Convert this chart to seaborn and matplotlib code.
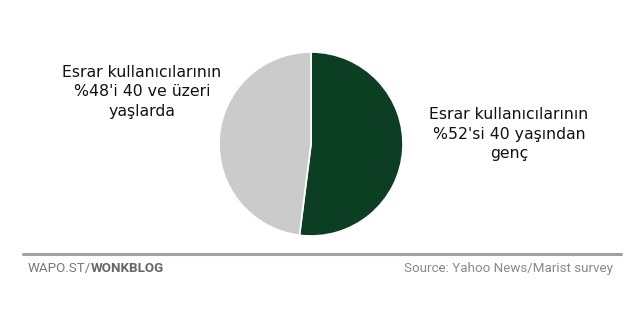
import matplotlib
matplotlib.use("Agg")
import matplotlib.pyplot as plt
import seaborn as sns
from matplotlib.lines import Line2D

sns.set_theme(style="white")
plt.rcParams['font.family'] = ['DejaVu Sans']

categories = ["40 yaşından genç", "40 ve üzeri"]
values = [52, 48]
colors = ["#0c3e23", "#cbcbcb"]
labels = [
    "Esrar kullanıcılarının\n%52'si 40 yaşından\ngenç",
    "Esrar kullanıcılarının\n%48'i 40 ve üzeri\nyaşlarda",
]
source_text = "Source: Yahoo News/Marist survey"

W, H = 640, 310
fig = plt.figure(figsize=(W / 100, H / 100), dpi=100)
fig.patch.set_facecolor("white")

# pie axes: center (311,144), radius 92 px
cx, cy, r = 311, 144, 92
ax = fig.add_axes([(cx - r) / W, (H - cy - r) / H, 2 * r / W, 2 * r / H])
ax.pie(values, colors=colors, startangle=90, counterclock=False, radius=1,
       wedgeprops=dict(edgecolor="white", linewidth=1.2))
ax.set_xlim(-1, 1)
ax.set_ylim(-1, 1)
ax.set_aspect("equal")
ax.axis("off")

fs = 11.3
fig.text(509 / W, 1 - 134 / H, labels[0], ha="center", va="center",
         fontsize=fs, color="#111111", linespacing=1.36, family=["DejaVu Sans"])
fig.text(142 / W, 1 - 92 / H, labels[1], ha="center", va="center",
         fontsize=fs, color="#111111", linespacing=1.36, family=["DejaVu Sans"])

# footer rule
fig.add_artist(Line2D([23 / W, 621 / W], [1 - 254 / H] * 2, color="#a0a0a0",
                      linewidth=2.2, transform=fig.transFigure))

ffam = ["Roboto", "DejaVu Sans"]
ffs = 9.6
base_y = 1 - 272 / H
t1 = fig.text(28 / W, base_y, "WAPO.ST/", ha="left", va="baseline",
              fontsize=ffs, color="#777777", family=ffam)
fig.canvas.draw()
bb = t1.get_window_extent()
fig.text(bb.x1 / W, base_y, "WONKBLOG", ha="left", va="baseline",
         fontsize=ffs, color="#666666", fontweight="bold", family=ffam)
fig.text(613 / W, base_y, source_text, ha="right", va="baseline",
         fontsize=ffs, color="#888888", family=ffam)

fig.savefig("out.png", dpi=100, facecolor="white")
